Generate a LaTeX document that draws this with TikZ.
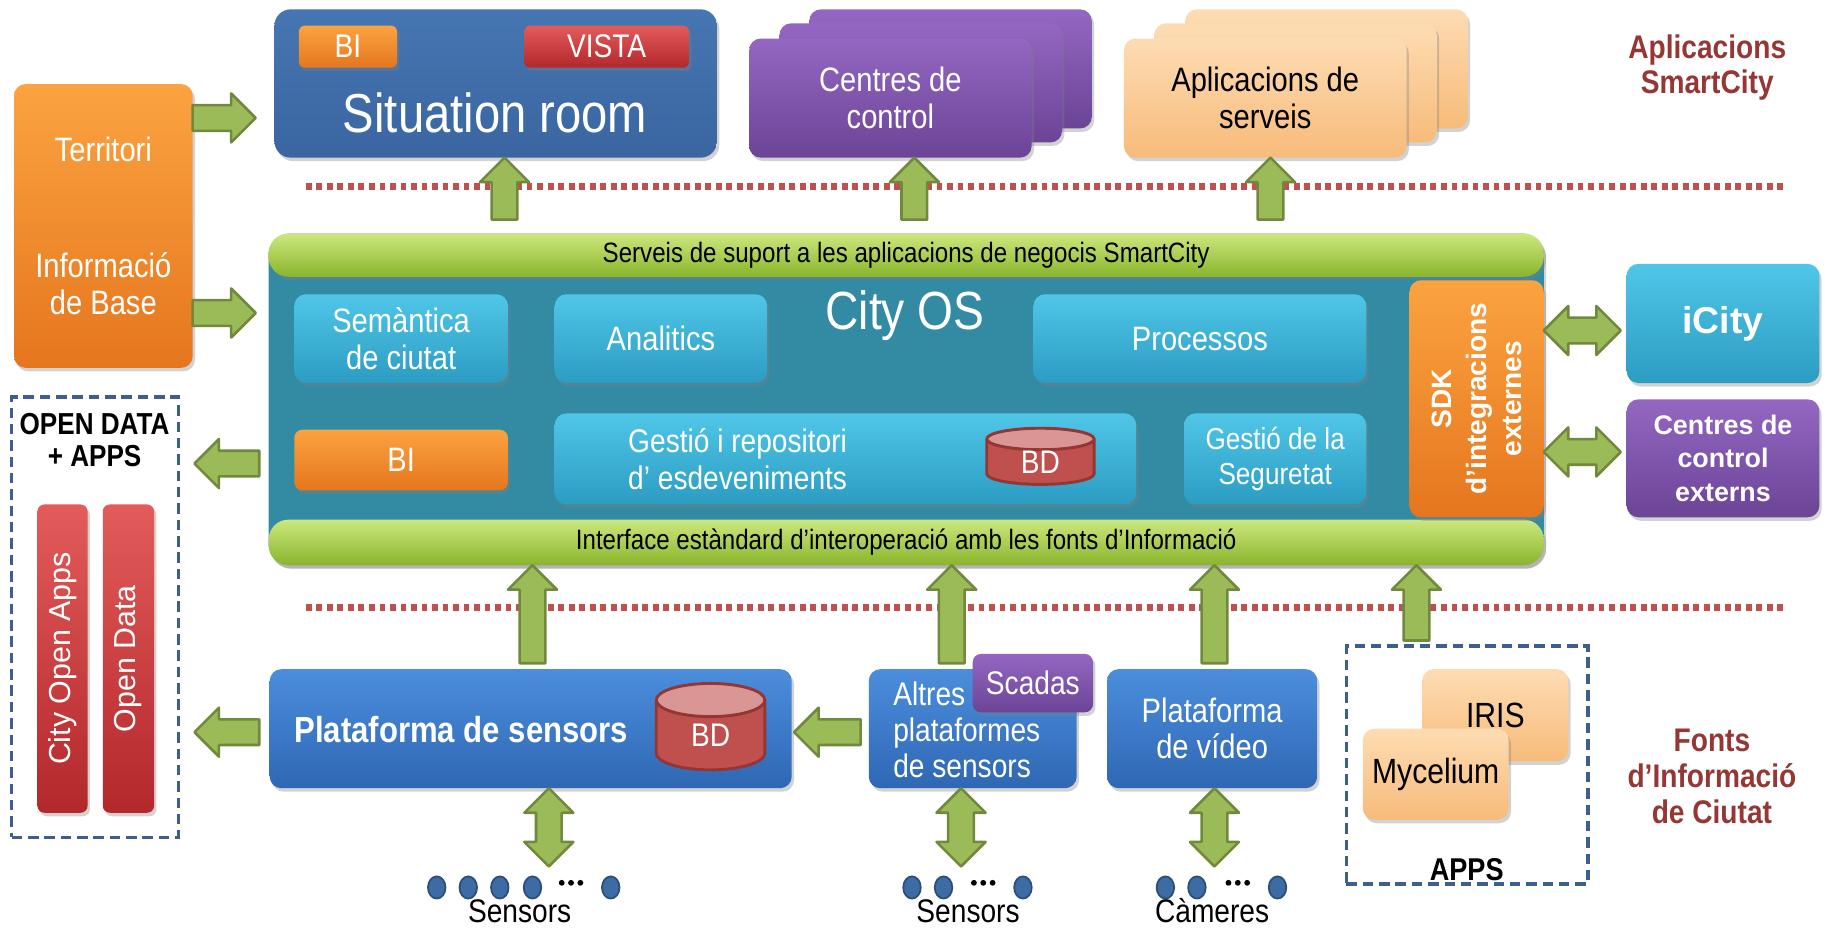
\documentclass[tikz,border=0pt]{standalone}
\usepackage{fontspec}
\setmainfont{Liberation Sans}
\newfontfamily\nar[FakeStretch=0.86]{Liberation Sans}
\usetikzlibrary{shapes.geometric,shadows,calc}
\definecolor{orT}{HTML}{FBA340}
\definecolor{orB}{HTML}{E5761E}
\definecolor{redT}{HTML}{E35B5B}
\definecolor{redB}{HTML}{B3282B}
\definecolor{purT}{HTML}{9467C2}
\definecolor{purB}{HTML}{6B4496}
\definecolor{peaT}{HTML}{FDDCB3}
\definecolor{peaB}{HTML}{F7BB7A}
\definecolor{sitB}{HTML}{3A65A0}
\definecolor{sitT}{HTML}{4676B2}
\definecolor{tealc}{HTML}{338AA3}
\definecolor{grT}{HTML}{CDE77F}
\definecolor{grB}{HTML}{8AB52A}
\definecolor{cyT}{HTML}{4FC6E8}
\definecolor{cyB}{HTML}{2C9CC2}
\definecolor{plT}{HTML}{4B8EDC}
\definecolor{plB}{HTML}{2F67B4}
\definecolor{arrG}{HTML}{9BBB59}
\definecolor{arrD}{HTML}{71893C}
\definecolor{darkred}{HTML}{953735}
\definecolor{dotred}{HTML}{C0504D}
\definecolor{dashblue}{HTML}{3B5F8E}
\definecolor{dotblue}{HTML}{3D6BA3}
\definecolor{dotD}{HTML}{2B4E7A}
\definecolor{cylR}{HTML}{C0504D}
\definecolor{cylT}{HTML}{D99694}
\definecolor{cylD}{HTML}{943634}
\newcommand\fs[2]{\fontsize{#1}{#2}\selectfont}
\newcommand\barrow[2]{%
  \path[blockarrow] let \p1=(#1), \p2=(#2),
    \n1={veclen(\x2-\x1,\y2-\y1)}, \n2={atan2(\y2-\y1,\x2-\x1)} in
    {[shift={(\p1)},rotate=\n2]
    (0pt,-11pt) -- (\n1-21pt,-11pt) -- (\n1-21pt,-21pt) -- (\n1,0pt)
    -- (\n1-21pt,21pt) -- (\n1-21pt,11pt) -- (0pt,11pt) -- cycle};}
\newcommand\dbarrow[2]{%
  \path[blockarrow] let \p1=(#1), \p2=(#2),
    \n1={veclen(\x2-\x1,\y2-\y1)}, \n2={atan2(\y2-\y1,\x2-\x1)} in
    {[shift={(\p1)},rotate=\n2]
    (0pt,0pt) -- (21pt,21pt) -- (21pt,11pt) -- (\n1-21pt,11pt) -- (\n1-21pt,21pt) -- (\n1,0pt)
    -- (\n1-21pt,-21pt) -- (\n1-21pt,-11pt) -- (21pt,-11pt) -- (21pt,-21pt) -- cycle};}
\begin{document}
\begin{tikzpicture}[x=1pt,y=-1pt,
  wh/.style 2 args={minimum width=#1pt,minimum height=#2pt},
  box/.style={rectangle,rounded corners=10pt,inner sep=0pt,outer sep=0pt,text=white,align=center},
  shad/.style={drop shadow={opacity=0.35,shadow xshift=2pt,shadow yshift=-3pt}},
  orbox/.style={box,shad,top color=orT,bottom color=orB},
  redbox/.style={box,shad,top color=redT,bottom color=redB},
  purbox/.style={box,shad,top color=purT,bottom color=purB},
  peabox/.style={box,shad,top color=peaT,bottom color=peaB,text=black},
  cybox/.style={box,shad,top color=cyT,bottom color=cyB},
  plbox/.style={box,shad,top color=plT,bottom color=plB},
  grbar/.style={box,shad,rounded corners=17pt,top color=grT,bottom color=grB,text=black,font=\nar\fs{24}{26}},
  txt/.style={inner sep=0pt,outer sep=0pt,align=center,text=white},
  dashbox/.style={draw=dashblue,line width=3pt,dash pattern=on 9pt off 5pt,inner sep=0pt},
  cyl/.style={cylinder,shape border rotate=90,draw=cylD,line width=2.5pt,
    cylinder uses custom fill,cylinder body fill=cylR,cylinder end fill=cylT,
    inner sep=0pt,text=white,font=\nar\fs{28}{30}},
  sdot/.style={ellipse,minimum width=15pt,minimum height=19pt,fill=dotblue,draw=dotD,line width=1.5pt,inner sep=0pt},
  edot/.style={circle,fill=black,minimum size=5pt,inner sep=0pt},
  dline/.style={dotred,line width=6pt,dash pattern=on 5pt off 4pt},
  blockarrow/.style={fill=arrG,draw=arrD,line width=2.2pt,line join=round},
  lab/.style={inner sep=0pt,font=\nar\fs{28}{30},anchor=base}
]
\fill[white] (0,0) rectangle (1568,795);
\useasboundingbox (0,0) rectangle (1568,795);

% ---------- top row ----------
\node[orbox,wh={153}{243}] (terr) at (88.5,193.5) {};
\node[txt,font=\nar\fs{29}{32}] (terrtxt) at (terr.center) {Territori\\[67pt]Informació\\de Base};

\node[box,shad,top color=sitT,bottom color=sitB,rounded corners=14pt,wh={379}{127}] (sit) at (424.5,71.5) {};
\node[orbox,rounded corners=5pt,wh={84}{36},font=\nar\fs{28}{30}] (sitbi) at (298,40) {BI};
\node[redbox,rounded corners=5pt,wh={141}{36},font=\nar\fs{28}{30}] (vista) at (519.5,40) {VISTA};
\node[txt,font=\nar\fs{47}{50}] (sittxt) at (424,97) {Situation room};

\node[purbox,wh={242}{102}] (cc3) at (814,59) {};
\node[purbox,wh={242}{102}] (cc2) at (788.5,71) {};
\node[purbox,wh={242}{102},font=\nar\fs{29}{32}] (cc1) at (762.5,84) {Centres de\\control};

\node[peabox,wh={242}{102}] (ap3) at (1136,59) {};
\node[peabox,wh={242}{102}] (ap2) at (1109.5,71) {};
\node[peabox,wh={242}{102},font=\nar\fs{29}{32}] (ap1) at (1083.5,84) {Aplicacions de\\serveis};

\node[txt,text=darkred,font=\nar\bfseries\fs{28}{30}] (apsc) at (1462,58) {Aplicacions\\SmartCity};

\draw[dline] (262,160) -- (1530,160);
\draw[dline] (262,520) -- (1530,520);

% ---------- City OS ----------
\node[box,shad,fill=tealc,rounded corners=18pt,wh={1092}{284}] (cityos) at (776,342) {};
\node[grbar,wh={1092}{37}] (topbar) at (776,218.5) {Serveis de suport a les aplicacions de negocis SmartCity};
\node[grbar,wh={1092}{39}] (botbar) at (776,464.5) {Interface estàndard d’interoperació amb les fonts d’Informació};
\node[txt,font=\nar\fs{46}{48}] (cityoslbl) at (775,270) {City OS};

\node[cybox,wh={183}{76},font=\nar\fs{29}{32}] (sem) at (343.5,290) {Semàntica\\de ciutat};
\node[cybox,wh={182}{76},font=\nar\fs{29}{32}] (ana) at (566,290) {Analitics};
\node[cybox,wh={285}{76},font=\nar\fs{29}{32}] (proc) at (1027.5,290) {Processos};
\node[orbox,rounded corners=7pt,wh={183}{52},font=\nar\fs{29}{32}] (bi) at (343.5,394) {BI};
\node[cybox,wh={498}{78}] (gest) at (724,393) {};
\node[txt,align=left,anchor=west,font=\nar\fs{28}{32}] (gesttxt) at (538,393) {Gestió i repositori\\d’ esdeveniments};
\node[cyl,aspect=0.55,minimum width=92pt,minimum height=48pt] (bd1) at (891,396) {BD};
\node[cybox,wh={156}{78},font=\nar\fs{26}{30}] (seg) at (1092,393) {Gestió de la\\Seguretat};
\node[orbox,wh={115}{203}] (sdk) at (1264.5,341.5) {};
\node[txt,rotate=90,font=\bfseries\fs{24}{30}] (sdktxt) at (sdk.center) {SDK\\d’integracions\\externes};

\node[cybox,wh={165}{102},font=\bfseries\fs{32}{34}] (icity) at (1475.5,277) {iCity};
\node[purbox,wh={165}{101},font=\bfseries\fs{23}{28.5}] (extc) at (1475.5,392.5) {Centres de\\control\\externs};

% ---------- open data ----------
\node[dashbox,wh={143}{377}] (odbox) at (81.5,528.5) {};
\node[txt,text=black,font=\nar\bfseries\fs{26}{27}] (odtitle) at (81,377) {OPEN DATA\\+ APPS};
\node[redbox,rounded corners=6pt,wh={43}{264}] (coa) at (53.5,564) {};
\node[redbox,rounded corners=6pt,wh={44}{264}] (od) at (110,564) {};
\node[txt,rotate=90,font=\fs{26}{28}] (coatxt) at (coa.center) {City Open Apps};
\node[txt,rotate=90,font=\fs{26}{28}] (odtxt) at (od.center) {Open Data};

% ---------- bottom row ----------
\node[plbox,wh={447}{102}] (plat) at (454.5,624) {};
\node[txt,anchor=west,font=\nar\bfseries\fs{31}{33}] (plattxt) at (252,625) {Plataforma de sensors};
\node[cyl,aspect=0.85,minimum width=93pt,minimum height=74pt] (bd2) at (608.5,630) {BD};

\node[plbox,wh={178}{102}] (altres) at (833,624) {};
\node[txt,align=left,anchor=west,font=\nar\fs{28}{31}] (altrestxt) at (765,625) {Altres\\plataformes\\de sensors};
\node[purbox,rounded corners=7pt,wh={103}{50},font=\nar\fs{28}{30}] (scadas) at (884.5,585) {Scadas};
\node[plbox,wh={180}{102},font=\nar\fs{29}{31}] (video) at (1038,624) {Plataforma\\de vídeo};

\node[dashbox,wh={207}{204}] (appsbox) at (1256.5,655) {};
\node[peabox,wh={125}{79},font=\nar\fs{30}{32}] (iris) at (1280.5,612.5) {IRIS};
\node[peabox,wh={125}{78},font=\nar\fs{30}{32}] (myc) at (1229.5,663) {Mycelium};
\node[inner sep=0pt,font=\nar\bfseries\fs{27}{29}] (appslbl) at (1256,745) {APPS};

\node[txt,text=darkred,font=\nar\bfseries\fs{28}{31}] (fonts) at (1466,665) {Fonts\\d’Informació\\de Ciutat};

% ---------- sensors ----------
\foreach \x/\n in {374/sa1,401/sa2,428/sa3,456/sa4,523/sa5,781/sb1,808/sb2,876/sb3,998/sc1,1025/sc2,1094/sc3}
  \node[sdot] (\n) at (\x,760) {};
\foreach \x/\n in {481/ea1,489/ea2,497/ea3,834/eb1,842/eb2,850/eb3,1052/ec1,1060/ec2,1068/ec3}
  \node[edot] (\n) at (\x,756) {};
\node[lab] (laba) at (445,790) {Sensors};
\node[lab] (labb) at (829,790) {Sensors};
\node[lab] (labc) at (1038,790) {Càmeres};

% ---------- arrows ----------
\coordinate (a1s) at ($(terr.north east)+(0,29)$);
\coordinate (a1e) at ($(sit.west |- a1s)+(-16,0)$);
\coordinate (a2s) at ($(terr.north east)+(0,196)$);
\coordinate (a2e) at ($(cityos.west |- a2s)+(-11,0)$);
\coordinate (a3s) at ($(cityos.west)+(-8,55)$);
\coordinate (a3e) at ($(odbox.east |- a3s)+(12,0)$);
\coordinate (a4e) at ($(sit.south)+(7.5,0)$);
\coordinate (a4s) at ($(a4e)+(0,53)$);
\coordinate (a5e) at ($(cc1.south)+(20.5,0)$);
\coordinate (a5s) at ($(a5e)+(0,53)$);
\coordinate (a6e) at ($(ap1.south)+(4.5,0)$);
\coordinate (a6s) at ($(a6e)+(0,53)$);
\coordinate (a7e) at ($(plat.north |- cityos.south)+(1.5,0)$);
\coordinate (a7s) at ($(plat.north)+(1.5,-5)$);
\coordinate (a8e) at ($(altres.north |- cityos.south)+(-18,0)$);
\coordinate (a8s) at ($(altres.north)+(-18,-5)$);
\coordinate (a9e) at ($(video.north |- cityos.south)+(2,0)$);
\coordinate (a9s) at ($(video.north)+(2,-5)$);
\coordinate (a10e) at ($(appsbox.north |- cityos.south)+(-43.5,0)$);
\coordinate (a10s) at ($(appsbox.north)+(-43.5,-3)$);
\coordinate (a11s) at ($(plat.west)+(-9,3)$);
\coordinate (a11e) at ($(odbox.east |- a11s)+(12,0)$);
\coordinate (a12s) at ($(altres.west)+(-7,3)$);
\coordinate (a12e) at ($(plat.east |- a12s)+(2,0)$);
\coordinate (d1s) at ($(sdk.east)+(0,-58.5)$);
\coordinate (d1e) at ($(icity.west |- d1s)+(-5,0)$);
\coordinate (d2s) at ($(sdk.east)+(0,45.5)$);
\coordinate (d2e) at ($(extc.west |- d2s)+(-5,0)$);
\coordinate (d3s) at ($(plat.south)+(15.5,0)$);
\coordinate (d3e) at ($(d3s)+(0,67)$);
\coordinate (d4s) at ($(altres.south)+(-10,0)$);
\coordinate (d4e) at ($(d4s)+(0,67)$);
\coordinate (d5s) at ($(video.south)+(2,0)$);
\coordinate (d5e) at ($(d5s)+(0,67)$);

\barrow{a1s}{a1e}
\barrow{a2s}{a2e}
\barrow{a3s}{a3e}
\barrow{a4s}{a4e}
\barrow{a5s}{a5e}
\barrow{a6s}{a6e}
\barrow{a7s}{a7e}
\barrow{a8s}{a8e}
\barrow{a9s}{a9e}
\barrow{a10s}{a10e}
\barrow{a11s}{a11e}
\barrow{a12s}{a12e}
\dbarrow{d1s}{d1e}
\dbarrow{d2s}{d2e}
\dbarrow{d3s}{d3e}
\dbarrow{d4s}{d4e}
\dbarrow{d5s}{d5e}
\end{tikzpicture}
\end{document}
